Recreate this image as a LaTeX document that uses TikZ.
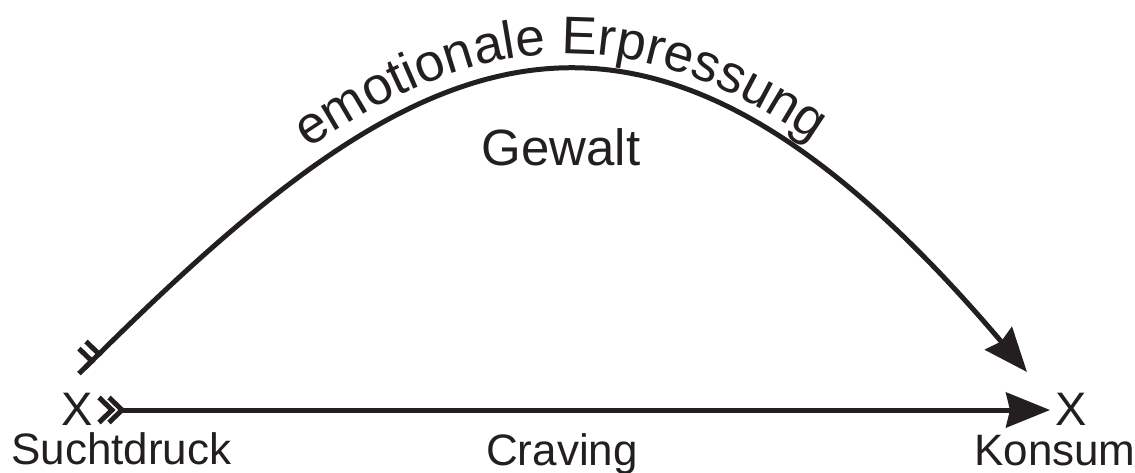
\documentclass[tikz,border=0pt]{standalone}
\usepackage{fontspec}
\setmainfont{Liberation Sans}
\usetikzlibrary{arrows.meta,decorations.text}
\definecolor{ink}{HTML}{231F20}
\newcommand\labfont{\fontsize{44}{50}\selectfont}
\newcommand\xfont{\fontsize{47}{52}\selectfont}
\newcommand\gfont{\fontsize{51}{58}\selectfont}
\newcommand\efont{\fontsize{53}{60}\selectfont}
\tikzset{
  conn/.style={draw=ink, line width=5pt, -{Stealth[length=44pt,width=35pt,inset=4pt]}},
  lab/.style={inner sep=0pt, text=ink, font=\labfont},
  xlab/.style={inner sep=0pt, text=ink, font=\xfont, anchor=base},
  chev/.pic={\draw[ink, line width=5pt, line join=miter, line cap=butt] (-13,-12.5) -- (0,0) -- (-13,12.5);},
  dchev/.pic={\pic {chev}; \pic at (-10,0) {chev};}
}
\begin{document}
\begin{tikzpicture}[x=1pt,y=-1pt]
\useasboundingbox (0,0) rectangle (1135,472);
% X markers
\node[xlab] (xl) at (77.5,425) {X};
\node[xlab] (xr) at (1071,425) {X};
% labels
\node[lab, anchor=base west] (such) at (11,464) {Suchtdruck};
\node[lab, anchor=base west] (crav) at (486,465) {Craving};
\node[lab, anchor=base west] (kons) at (974,465) {Konsum};
\node[inner sep=0pt, text=ink, font=\gfont, anchor=base] (gew) at (561,165) {Gewalt};
% connector endpoints
\coordinate (s1) at (122,410);
\coordinate (e1) at (1050,410);
\coordinate (s2) at (99,354);
\coordinate (e2) at (1027,372);
% straight arrow
\draw[conn] (s1) -- (e1);
\pic at (s1) {dchev};
% arc arrow
\draw[conn] (s2) .. controls (415,42) and (638,-87) .. (e2);
\pic[rotate=45] at (s2) {dchev};
% curved text
\path[decorate, decoration={text along path, text align=center,
  text color=ink, text={|\efont|emotionale Erpressung}}]
  (67,354) .. controls (415,20) and (638,-109) .. (1044,358);
\end{tikzpicture}
\end{document}
